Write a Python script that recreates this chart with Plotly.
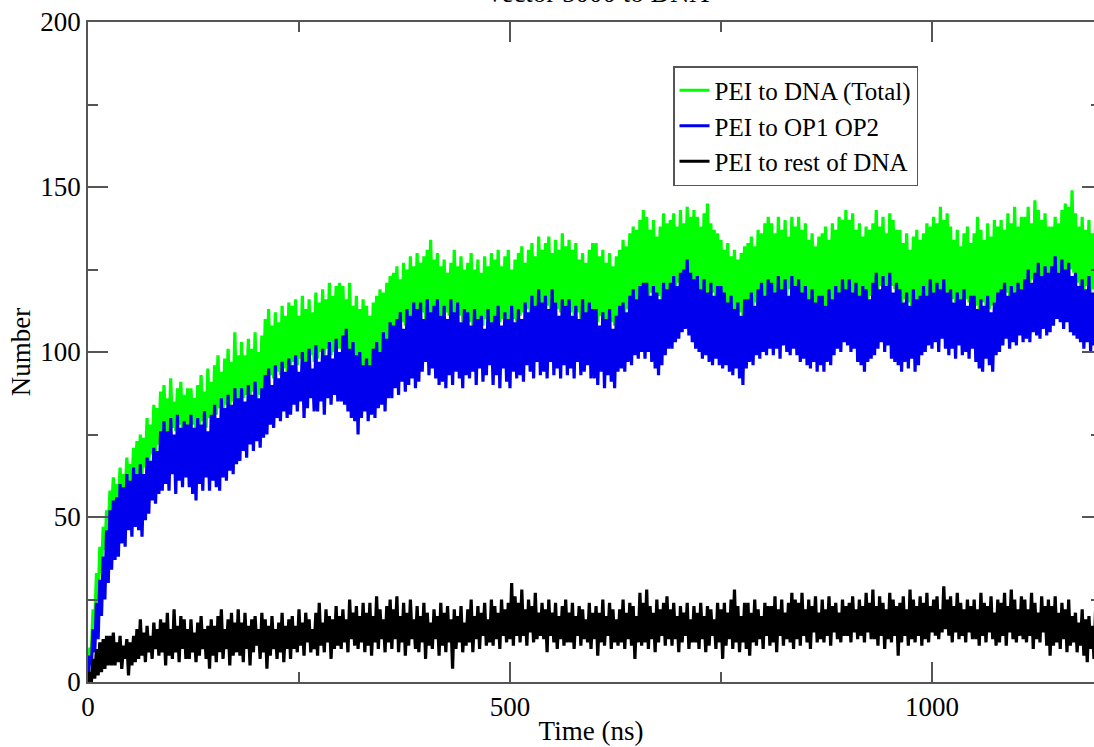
import plotly.graph_objects as go

# sampling times (ns), one frame every 2 ns
time_ns = list(range(0, 1201, 2))

# PEI to DNA (Total)
dna_total = [
    0, 10, 10, 22, 18, 33, 25, 41, 33, 47, 40, 52, 46, 58, 52,
    62, 52, 60, 54, 65, 55, 63, 57, 68, 59, 66, 60, 71, 62, 73,
    62, 75, 63, 74, 65, 80, 66, 78, 69, 84, 70, 83, 72, 88, 73,
    90, 76, 86, 75, 92, 77, 85, 76, 89, 78, 91, 75, 87, 77, 89,
    77, 89, 78, 86, 76, 90, 78, 93, 79, 88, 77, 95, 80, 91, 78,
    96, 81, 99, 83, 94, 82, 98, 84, 101, 83, 97, 85, 106, 84, 99,
    85, 103, 86, 99, 87, 104, 85, 101, 88, 106, 86, 100, 87, 105, 89,
    110, 91, 113, 93, 108, 92, 112, 94, 109, 93, 114, 95, 111, 94, 115,
    95, 114, 97, 116, 96, 111, 98, 117, 96, 113, 97, 116, 99, 112, 97,
    118, 98, 115, 100, 119, 99, 116, 101, 121, 99, 117, 100, 120, 101, 121,
    101, 120, 102, 116, 99, 121, 98, 114, 97, 117, 96, 113, 95, 116, 94,
    114, 94, 111, 95, 115, 97, 117, 98, 119, 100, 118, 101, 121, 103, 123,
    105, 124, 107, 126, 108, 122, 109, 127, 108, 125, 110, 129, 109, 126, 111,
    130, 111, 127, 112, 129, 110, 131, 112, 134, 111, 128, 113, 130, 111, 126,
    110, 128, 112, 124, 111, 127, 110, 131, 112, 126, 111, 129, 109, 125, 111,
    127, 109, 130, 108, 125, 110, 128, 109, 124, 108, 129, 110, 126, 109, 130,
    108, 128, 110, 131, 109, 126, 110, 129, 108, 131, 109, 125, 110, 128, 109,
    130, 111, 132, 112, 127, 113, 131, 112, 133, 114, 129, 113, 135, 114, 131,
    113, 133, 114, 135, 112, 130, 115, 134, 113, 131, 112, 136, 114, 132, 113,
    134, 112, 131, 111, 133, 112, 128, 110, 130, 111, 127, 112, 131, 111, 133,
    110, 133, 109, 129, 111, 131, 108, 127, 110, 130, 109, 126, 108, 129, 110,
    131, 111, 134, 112, 132, 113, 136, 114, 138, 115, 137, 116, 140, 117, 143,
    117, 141, 116, 137, 118, 140, 116, 135, 117, 138, 116, 142, 118, 139, 117,
    140, 118, 142, 120, 138, 121, 143, 122, 139, 123, 144, 121, 141, 120, 143,
    119, 141, 118, 138, 119, 142, 118, 145, 117, 139, 118, 137, 116, 136, 117,
    134, 115, 131, 114, 133, 113, 129, 112, 131, 111, 128, 112, 130, 111, 132,
    112, 133, 113, 135, 114, 132, 115, 137, 116, 136, 117, 139, 116, 141, 118,
    139, 118, 136, 117, 141, 119, 137, 118, 140, 117, 135, 119, 141, 118, 138,
    118, 141, 117, 137, 116, 139, 115, 134, 115, 136, 114, 132, 113, 135, 114,
    136, 113, 138, 114, 134, 115, 139, 116, 137, 117, 141, 116, 140, 118, 143,
    118, 140, 117, 142, 118, 137, 116, 139, 117, 135, 118, 138, 116, 137, 117,
    139, 118, 143, 119, 138, 120, 141, 119, 136, 118, 142, 120, 140, 119, 137,
    115, 137, 114, 133, 116, 136, 115, 131, 114, 135, 116, 137, 115, 134, 116,
    136, 116, 139, 117, 138, 118, 141, 117, 139, 118, 144, 117, 140, 118, 142,
    117, 138, 116, 134, 115, 137, 116, 132, 115, 136, 116, 138, 115, 133, 116,
    136, 114, 141, 113, 137, 115, 134, 114, 139, 113, 135, 114, 140, 115, 138,
    116, 140, 117, 137, 118, 142, 117, 139, 118, 144, 117, 138, 119, 141, 118,
    141, 120, 144, 121, 139, 122, 146, 121, 143, 123, 140, 122, 142, 121, 138,
    122, 138, 123, 141, 122, 139, 124, 143, 123, 145, 124, 144, 125, 149, 124,
    142, 121, 138, 120, 141, 119, 137, 120, 140, 118, 136, 119, 141, 117, 138,
    120,
]

# PEI to OP1 OP2
op1_op2 = [
    0, 8, 5, 16, 9, 24, 13, 31, 20, 38, 25, 46, 30, 52, 34,
    55, 37, 56, 38, 60, 42, 59, 41, 63, 46, 61, 44, 65, 47, 63,
    46, 66, 44, 63, 49, 68, 51, 67, 55, 71, 54, 70, 57, 76, 58,
    79, 60, 76, 58, 80, 63, 75, 57, 81, 61, 77, 59, 79, 62, 78,
    59, 81, 57, 77, 55, 80, 60, 78, 58, 82, 62, 76, 58, 81, 61,
    84, 59, 80, 58, 86, 62, 83, 61, 87, 64, 84, 63, 89, 66, 86,
    67, 89, 70, 85, 68, 90, 72, 87, 70, 91, 73, 86, 71, 89, 74,
    93, 75, 95, 78, 90, 77, 96, 80, 92, 79, 97, 82, 94, 80, 98,
    81, 96, 84, 99, 82, 94, 85, 100, 80, 97, 83, 101, 86, 95, 82,
    102, 82, 97, 85, 101, 81, 99, 86, 103, 84, 98, 87, 104, 85, 100,
    85, 105, 84, 107, 82, 101, 80, 103, 79, 99, 75, 100, 80, 96, 82,
    98, 79, 96, 81, 101, 80, 103, 83, 100, 84, 106, 82, 104, 86, 109,
    86, 108, 89, 110, 87, 112, 91, 107, 88, 113, 90, 111, 92, 115, 89,
    113, 91, 115, 94, 110, 97, 116, 93, 112, 95, 114, 92, 116, 90, 111,
    91, 114, 89, 110, 93, 116, 90, 112, 94, 115, 92, 109, 89, 113, 93,
    112, 92, 108, 94, 113, 90, 110, 95, 111, 91, 107, 93, 113, 96, 109,
    90, 111, 93, 114, 89, 108, 95, 112, 91, 110, 89, 114, 94, 109, 92,
    113, 93, 110, 91, 115, 96, 112, 94, 117, 92, 114, 97, 119, 93, 115,
    94, 117, 92, 113, 97, 119, 93, 115, 95, 111, 92, 116, 96, 114, 93,
    116, 95, 111, 92, 114, 97, 110, 93, 116, 94, 112, 96, 115, 92, 113,
    92, 113, 90, 108, 94, 112, 89, 110, 93, 113, 91, 107, 89, 111, 94,
    114, 95, 115, 94, 112, 97, 117, 96, 119, 99, 116, 98, 120, 100, 121,
    98, 121, 100, 117, 97, 120, 95, 118, 93, 116, 96, 121, 99, 119, 101,
    121, 101, 123, 103, 120, 104, 124, 106, 125, 107, 128, 105, 124, 103, 122,
    101, 123, 100, 119, 98, 122, 99, 118, 97, 121, 96, 117, 98, 120, 96,
    120, 95, 118, 96, 115, 94, 117, 93, 113, 95, 115, 92, 111, 90, 116,
    95, 116, 97, 118, 96, 114, 99, 119, 98, 121, 100, 117, 99, 122, 101,
    121, 99, 118, 101, 123, 98, 119, 102, 122, 100, 117, 99, 123, 101, 120,
    99, 122, 97, 118, 98, 120, 96, 116, 95, 119, 97, 115, 94, 117, 96,
    117, 94, 114, 97, 119, 96, 116, 99, 120, 101, 118, 100, 122, 103, 119,
    102, 122, 100, 118, 101, 121, 97, 117, 96, 120, 94, 119, 97, 116, 98,
    121, 99, 124, 101, 119, 103, 123, 100, 120, 102, 124, 98, 118, 97, 121,
    96, 119, 94, 115, 97, 118, 95, 114, 98, 119, 94, 116, 96, 117, 99,
    120, 100, 117, 102, 122, 101, 118, 103, 121, 100, 119, 104, 122, 101, 118,
    99, 119, 101, 115, 98, 118, 102, 116, 99, 119, 100, 114, 98, 117, 101,
    117, 97, 113, 95, 116, 94, 114, 98, 117, 96, 112, 94, 115, 99, 118,
    100, 119, 102, 121, 104, 117, 101, 120, 103, 118, 102, 121, 105, 119, 103,
    122, 104, 125, 103, 121, 106, 124, 105, 127, 104, 123, 107, 126, 105, 124,
    106, 126, 108, 129, 110, 124, 109, 128, 107, 125, 109, 127, 106, 123, 105,
    124, 104, 120, 103, 122, 101, 119, 103, 123, 100, 118, 102, 121, 101, 117,
    104,
]

# PEI to rest of DNA
rest_dna = [
    0, 3, 0, 7, 1, 10, 2, 12, 3, 13, 4, 14, 5, 14, 5,
    15, 5, 12, 6, 14, 4, 11, 7, 13, 2, 12, 5, 14, 6, 16,
    7, 19, 8, 15, 6, 17, 9, 14, 7, 18, 10, 16, 8, 19, 9,
    18, 5, 21, 8, 16, 7, 22, 9, 17, 6, 20, 10, 19, 7, 16,
    7, 19, 9, 15, 6, 18, 8, 20, 10, 16, 7, 17, 4, 19, 8,
    17, 6, 20, 9, 22, 7, 16, 10, 19, 5, 21, 8, 18, 9, 22,
    8, 18, 6, 21, 10, 17, 5, 19, 9, 20, 11, 16, 7, 21, 9,
    19, 4, 17, 8, 20, 10, 16, 7, 18, 9, 21, 6, 17, 10, 19,
    7, 20, 10, 17, 9, 22, 11, 18, 8, 21, 12, 19, 9, 16, 10,
    21, 8, 24, 11, 18, 9, 22, 12, 20, 7, 19, 10, 23, 11, 20,
    10, 22, 12, 19, 9, 25, 13, 21, 11, 23, 10, 20, 12, 24, 9,
    21, 11, 24, 8, 20, 12, 26, 10, 22, 13, 19, 9, 23, 12, 25,
    10, 22, 13, 26, 9, 20, 12, 24, 8, 21, 11, 25, 13, 19, 10,
    23, 9, 20, 12, 24, 7, 21, 11, 18, 10, 22, 13, 20, 8, 24,
    11, 21, 9, 23, 12, 19, 4, 22, 10, 20, 12, 23, 9, 18, 11,
    22, 12, 25, 9, 20, 13, 23, 10, 21, 14, 24, 11, 19, 12, 25,
    11, 23, 13, 21, 10, 25, 14, 22, 12, 24, 13, 30, 11, 26, 14,
    24, 12, 28, 14, 22, 11, 25, 15, 23, 12, 27, 13, 21, 14, 24,
    13, 22, 9, 25, 14, 21, 12, 24, 10, 20, 13, 23, 11, 25, 12,
    21, 12, 24, 10, 20, 14, 23, 11, 22, 13, 19, 12, 24, 10, 21,
    13, 23, 8, 21, 12, 25, 11, 20, 14, 24, 10, 22, 12, 19, 11,
    22, 12, 25, 10, 21, 13, 24, 11, 23, 7, 20, 12, 27, 11, 24,
    12, 28, 10, 23, 13, 21, 9, 25, 12, 22, 14, 24, 11, 26, 13,
    22, 11, 24, 13, 20, 9, 23, 12, 21, 14, 24, 10, 19, 12, 23,
    12, 21, 10, 24, 13, 20, 9, 23, 11, 22, 14, 19, 10, 24, 12,
    22, 7, 24, 11, 21, 13, 25, 10, 28, 12, 23, 9, 20, 12, 24,
    10, 24, 8, 21, 12, 25, 11, 22, 13, 20, 10, 24, 14, 23, 11,
    23, 12, 26, 9, 22, 14, 25, 11, 21, 13, 24, 12, 27, 10, 25,
    13, 24, 11, 27, 14, 22, 12, 25, 10, 23, 15, 26, 12, 21, 13,
    25, 12, 22, 14, 26, 11, 23, 15, 24, 13, 21, 12, 25, 14, 23,
    14, 24, 12, 26, 15, 22, 13, 25, 14, 23, 12, 27, 15, 24, 13,
    28, 13, 23, 11, 26, 14, 24, 10, 22, 13, 27, 12, 25, 14, 23,
    8, 24, 12, 26, 14, 22, 11, 28, 13, 25, 12, 23, 14, 26, 11,
    24, 13, 27, 12, 23, 15, 25, 14, 26, 13, 22, 15, 29, 16, 25,
    14, 26, 12, 23, 15, 27, 13, 24, 14, 22, 12, 25, 15, 23, 13,
    25, 13, 22, 11, 27, 14, 24, 12, 23, 15, 26, 13, 21, 11, 25,
    12, 24, 14, 27, 11, 23, 15, 28, 13, 25, 12, 22, 14, 26, 13,
    25, 12, 22, 14, 27, 10, 24, 13, 21, 12, 26, 15, 23, 11, 25,
    8, 23, 11, 26, 12, 21, 10, 24, 13, 22, 9, 25, 11, 20, 12,
    21, 9, 18, 11, 22, 8, 19, 6, 20, 10, 17, 7, 23, 11, 24,
    12,
]

series_names = ["PEI to DNA (Total)", "PEI to OP1 OP2", "PEI to rest of DNA"]
series_colors = ["#00ff00", "#0000ee", "#000000"]

FONT = "Liberation Serif, Times New Roman, serif"
AX = "#555555"
FS = 27

fig = go.Figure()
for name, vals, col in zip(series_names, [dna_total, op1_op2, rest_dna], series_colors):
    fig.add_trace(go.Scatter(x=time_ns, y=vals, mode="lines", name=name,
                             line=dict(color=col, width=3.2)))

# helper trace for right-hand mirrored ticks (no frame line on the right)
fig.add_trace(go.Scatter(x=[], y=[], yaxis="y2", showlegend=False, hoverinfo="skip"))

fig.update_layout(
    width=1094, height=747,
    margin=dict(l=88, r=0, t=22, b=65),
    paper_bgcolor="white", plot_bgcolor="white",
    font=dict(family=FONT, size=FS, color="black"),
    title=dict(text="Vector 5000 to DNA", font=dict(family=FONT, size=FS, color="black"),
               xref="container", x=597 / 1094, xanchor="center",
               yref="container", y=1 - 2 / 747, yanchor="bottom"),
    showlegend=True,
    legend=dict(x=(673 - 88) / 1006, y=1 - (66 - 22) / 660, xanchor="left", yanchor="top",
                bordercolor=AX, borderwidth=1.5, bgcolor="white",
                font=dict(family=FONT, size=25, color="black")),
    xaxis=dict(range=[0, 1192], showgrid=False, zeroline=False,
               showline=True, linecolor=AX, linewidth=1.5, mirror="ticks",
               ticks="inside", ticklen=20, tickwidth=1.5, tickcolor=AX,
               tick0=0, dtick=500,
               minor=dict(ticks="inside", ticklen=10, tickwidth=1.5, tickcolor=AX, dtick=250),
               tickfont=dict(family=FONT, size=FS, color="black"),
               title=dict(text="Time (ns)", font=dict(family=FONT, size=FS, color="black"), standoff=0)),
    yaxis=dict(range=[0, 200], showgrid=False, zeroline=False,
               showline=True, linecolor=AX, linewidth=1.5,
               ticks="inside", ticklen=20, tickwidth=1.5, tickcolor=AX,
               tick0=0, dtick=50,
               minor=dict(ticks="inside", ticklen=10, tickwidth=1.5, tickcolor=AX, dtick=25),
               tickfont=dict(family=FONT, size=FS, color="black"),
               title=dict(text="Number", font=dict(family=FONT, size=FS, color="black"), standoff=2)),
    yaxis2=dict(range=[0, 200], overlaying="y", side="right", showgrid=False, zeroline=False,
                showline=False, showticklabels=False,
                ticks="inside", ticklen=12, tickwidth=1.5, tickcolor=AX,
                tick0=0, dtick=50,
                minor=dict(ticks="inside", ticklen=3, tickwidth=1.5, tickcolor=AX, dtick=25)),
)

fig.write_html("out.html")
